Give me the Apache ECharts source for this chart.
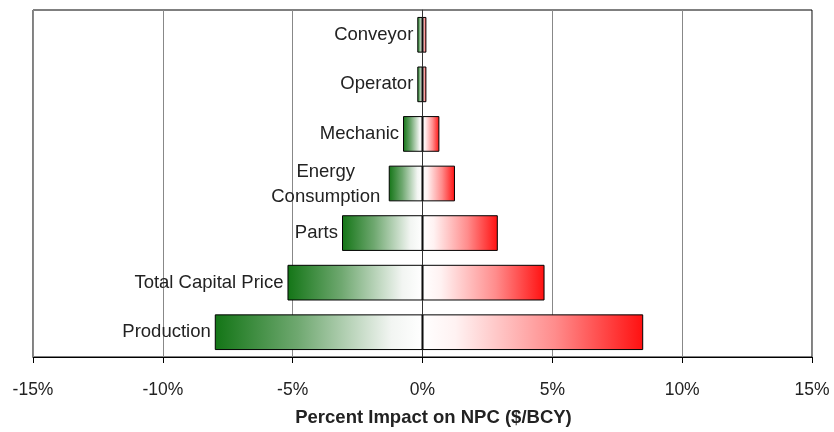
<!DOCTYPE html>
<html>
<head>
<meta charset="utf-8">
<script src="https://cdn.jsdelivr.net/npm/echarts@6/dist/echarts.min.js"></script>
<style>
  html, body { margin: 0; padding: 0; background: #fff; }
  #chart { width: 834px; height: 432px; }
</style>
</head>
<body>
<div id="chart"></div>
<script>
// top to bottom
const categories = ['Conveyor', 'Operator', 'Mechanic', 'Energy Consumption', 'Parts', 'Total Capital Price', 'Production'];
const lowImpact = [-0.2, -0.2, -0.75, -1.3, -3.1, -5.2, -8.0];
const highImpact = [0.15, 0.15, 0.65, 1.25, 2.9, 4.7, 8.5];
const xTicks = [-15, -10, -5, 0, 5, 10, 15];

const chart = echarts.init(document.getElementById('chart'));

const greenFill = new echarts.graphic.LinearGradient(0, 0, 1, 0, [
  { offset: 0, color: '#137516' },
  { offset: 0.4, color: '#6fa870' },
  { offset: 0.85, color: '#f2f5f2' },
  { offset: 1, color: '#ffffff' }
]);
const redFill = new echarts.graphic.LinearGradient(0, 0, 1, 0, [
  { offset: 0, color: '#ffffff' },
  { offset: 0.15, color: '#fff2f2' },
  { offset: 0.6, color: '#ff8c8c' },
  { offset: 1, color: '#ff1010' }
]);

const lowData = lowImpact.map((v, i) => {
  const item = { value: v };
  if (categories[i] === 'Energy Consumption') {
    item.label = { align: 'center', offset: [-59, 1], formatter: 'Energy\nConsumption' };
  }
  return item;
});

const option = {
  animation: false,
  backgroundColor: '#ffffff',
  textStyle: { fontFamily: 'Arial, "Liberation Sans", sans-serif' },
  grid: {
    left: 33, right: 22, top: 10, bottom: 74,
    show: true, borderColor: '#000', borderWidth: 1
  },
  xAxis: {
    type: 'value',
    min: xTicks[0],
    max: xTicks[xTicks.length - 1],
    interval: 5,
    name: 'Percent Impact on NPC ($/BCY)',
    nameLocation: 'middle',
    nameGap: 51,
    nameTextStyle: { fontSize: 18.5, fontWeight: 'bold', color: '#222', padding: [0, 0, 0, 22] },
    axisLine: { show: true, lineStyle: { color: '#000', width: 1 } },
    axisTick: { show: true, length: 6, inside: false, lineStyle: { color: '#000' } },
    axisLabel: { fontSize: 17.5, color: '#222', margin: 24, formatter: v => v + '%' },
    splitLine: { show: true, lineStyle: { color: '#888', width: 1 } }
  },
  yAxis: {
    type: 'category',
    data: categories,
    inverse: true,
    axisLine: { show: true, onZero: true, lineStyle: { color: '#333' } },
    axisTick: { show: false },
    axisLabel: { show: false },
    splitLine: { show: false }
  },
  series: [
    {
      name: 'Low',
      type: 'bar',
      data: lowData,
      barWidth: '72%',
      barGap: '-100%',
      itemStyle: { color: greenFill, borderColor: '#000', borderWidth: 1 },
      label: {
        show: true,
        position: 'left',
        distance: 4,
        fontSize: 18.5,
        lineHeight: 25,
        color: '#222',
        formatter: p => p.name
      }
    },
    {
      name: 'High',
      type: 'bar',
      data: highImpact,
      barWidth: '72%',
      itemStyle: { color: redFill, borderColor: '#000', borderWidth: 1 }
    }
  ]
};

chart.setOption(option);
</script>
</body>
</html>
